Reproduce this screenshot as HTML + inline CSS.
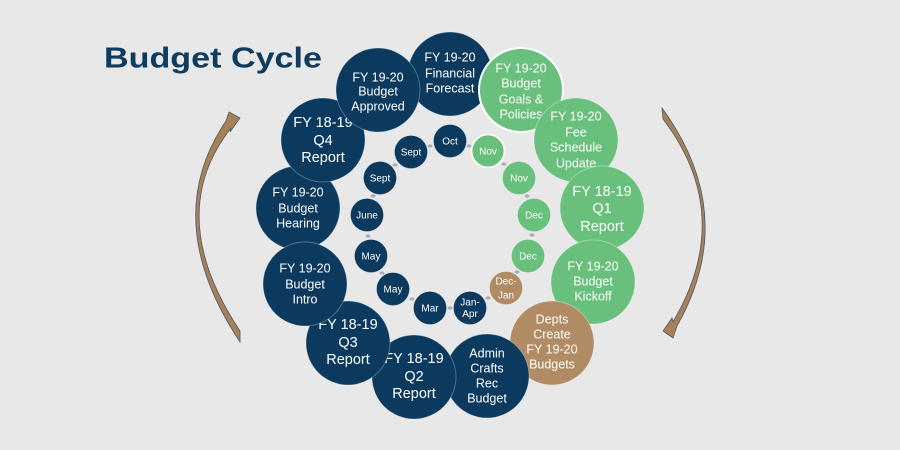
<!DOCTYPE html>
<html><head><meta charset="utf-8"><style>
html,body{margin:0;padding:0;background:#e8e8e8;}
svg{display:block;}
text{font-family:"Liberation Sans",sans-serif;fill:#fff;text-anchor:middle;}
.L{font-size:12.5px;}
.Q{font-size:14.5px;}
.s{font-size:10px;}
</style></head><body>
<svg width="900" height="450" viewBox="0 0 900 450" xmlns="http://www.w3.org/2000/svg">
<rect width="900" height="450" fill="#e8e8e8"/>
<text x="104" y="67.5" textLength="218" lengthAdjust="spacingAndGlyphs" style="font-size:29px;font-weight:bold;fill:#0d3c61;text-anchor:start;">Budget Cycle</text>

<!-- arrows -->
<path d="M226 121 L229 112 L240 118 L230 132 L231 128 Q163 215 240 331 L240 342 Q159 220 226 121 Z" fill="#a97f55" stroke="#4a5a6c" stroke-width="0.8"/>
<path d="M662 108 Q740 215 677 326 L673 338 L663 331 L672 318 L673 322 Q736 215 663 119 Z" fill="#a97f55" stroke="#4a5a6c" stroke-width="0.8"/>

<!-- connectors -->
<g fill="#a9acb4">
<ellipse cx="430" cy="146" rx="2.5" ry="1.6"/>
<ellipse cx="469" cy="146" rx="2.5" ry="1.6"/>
<ellipse cx="504" cy="164" rx="2.5" ry="1.6"/>
<ellipse cx="527" cy="196" rx="2.5" ry="1.6"/>
<ellipse cx="532" cy="235" rx="2.5" ry="1.6"/>
<ellipse cx="517" cy="272" rx="2.5" ry="1.6"/>
<ellipse cx="488" cy="298" rx="2.5" ry="1.6"/>
<ellipse cx="450" cy="308" rx="2.5" ry="1.6"/>
<ellipse cx="412" cy="299" rx="2.5" ry="1.6"/>
<ellipse cx="382" cy="273" rx="2.5" ry="1.6"/>
<ellipse cx="368" cy="236" rx="2.5" ry="1.6"/>
<ellipse cx="373" cy="196" rx="2.5" ry="1.6"/>
<ellipse cx="395" cy="165" rx="2.5" ry="1.6"/>
</g>

<!-- small circles -->
<g stroke="rgba(255,255,255,0.25)" stroke-width="0.8">
<circle cx="450" cy="141" r="16.5" fill="#0b3a5e"/>
<circle cx="411" cy="152" r="16.5" fill="#0b3a5e"/>
<circle cx="380" cy="178" r="16.5" fill="#0b3a5e"/>
<circle cx="367" cy="215" r="16.5" fill="#0b3a5e"/>
<circle cx="371" cy="256" r="16.5" fill="#0b3a5e"/>
<circle cx="393" cy="289" r="16.5" fill="#0b3a5e"/>
<circle cx="430" cy="308" r="16.5" fill="#0b3a5e"/>
<circle cx="470" cy="308" r="16.5" fill="#0b3a5e"/>
<circle cx="506" cy="288" r="16.5" fill="#b08b63"/>
<circle cx="528" cy="256" r="16.5" fill="#68c07c"/>
<circle cx="534" cy="215" r="16.5" fill="#68c07c"/>
<circle cx="519" cy="178" r="16.5" fill="#68c07c"/>
</g>
<circle cx="488" cy="151" r="16.5" fill="#68c07c" stroke="#fff" stroke-width="1.8"/>
<text class="s" x="450" y="144.5">Oct</text>
<text class="s" x="411" y="155.5">Sept</text>
<text class="s" x="380" y="181.5">Sept</text>
<text class="s" x="367" y="218.5">June</text>
<text class="s" x="371" y="259.5">May</text>
<text class="s" x="393" y="292.5">May</text>
<text class="s" x="430" y="311.5">Mar</text>
<text class="s" x="470" y="305.5">Jan-</text>
<text class="s" x="470" y="317">Apr</text>
<text class="s" x="506" y="284.5">Dec-</text>
<text class="s" x="506" y="298.5">Jan</text>
<text class="s" x="528" y="259.5">Dec</text>
<text class="s" x="534" y="218.5">Dec</text>
<text class="s" x="519" y="181.5">Nov</text>
<text class="s" x="488" y="154.5">Nov</text>

<!-- large circles in z-order -->
<g stroke-width="0.9">
<g><circle cx="450" cy="74" r="42" fill="#0b3a5e" stroke="rgba(255,255,255,0.3)"/>
<text class="L" x="450" y="61.5" stroke="none">FY 19-20</text><text class="L" x="450" y="77.5" stroke="none">Financial</text><text class="L" x="450" y="92.5" stroke="none">Forecast</text></g>

<g><circle cx="521" cy="90" r="42" fill="#68c07c" stroke="#fff" stroke-width="2"/>
<text class="L" x="521" y="72.5" stroke="none">FY 19-20</text><text class="L" x="521" y="87.5" stroke="none">Budget</text><text class="L" x="521" y="103.5" stroke="none">Goals &amp;</text><text class="L" x="521" y="118.5" stroke="none">Policies</text></g>

<g><circle cx="576" cy="140" r="42" fill="#68c07c" stroke="rgba(255,255,255,0.35)"/>
<text class="L" x="576" y="120.5" stroke="none">FY 19-20</text><text class="L" x="576" y="136.5" stroke="none">Fee</text><text class="L" x="576" y="151.5" stroke="none">Schedule</text><text class="L" x="576" y="167.5" stroke="none">Update</text></g>

<g><circle cx="602" cy="208" r="42" fill="#68c07c" stroke="rgba(255,255,255,0.35)"/>
<text class="Q" x="602" y="196" stroke="none">FY 18-19</text><text class="Q" x="602" y="213" stroke="none">Q1</text><text class="Q" x="602" y="231" stroke="none">Report</text></g>

<g><circle cx="593" cy="282" r="42" fill="#68c07c" stroke="rgba(255,255,255,0.35)"/>
<text class="L" x="593" y="270.5" stroke="none">FY 19-20</text><text class="L" x="593" y="285.5" stroke="none">Budget</text><text class="L" x="593" y="300.5" stroke="none">Kickoff</text></g>

<g><circle cx="552" cy="343" r="42" fill="#b08b63" stroke="rgba(255,255,255,0.35)"/>
<text class="L" x="552" y="323.5" stroke="none">Depts</text><text class="L" x="552" y="338.5" stroke="none">Create</text><text class="L" x="552" y="353.5" stroke="none">FY 19-20</text><text class="L" x="552" y="368.5" stroke="none">Budgets</text></g>

<g><circle cx="487" cy="376" r="42" fill="#0b3a5e" stroke="rgba(255,255,255,0.3)"/>
<text class="L" x="487" y="357.5" stroke="none">Admin</text><text class="L" x="487" y="372.5" stroke="none">Crafts</text><text class="L" x="487" y="387.5" stroke="none">Rec</text><text class="L" x="487" y="402.5" stroke="none">Budget</text></g>

<g><circle cx="414" cy="377" r="42" fill="#0b3a5e" stroke="rgba(255,255,255,0.3)"/>
<text class="Q" x="414" y="363" stroke="none">FY 18-19</text><text class="Q" x="414" y="381" stroke="none">Q2</text><text class="Q" x="414" y="398" stroke="none">Report</text></g>

<g><circle cx="348" cy="343" r="42" fill="#0b3a5e" stroke="rgba(255,255,255,0.3)"/>
<text class="Q" x="348" y="329" stroke="none">FY 18-19</text><text class="Q" x="348" y="347" stroke="none">Q3</text><text class="Q" x="348" y="364" stroke="none">Report</text></g>

<g><circle cx="298" cy="208" r="42" fill="#0b3a5e" stroke="rgba(255,255,255,0.3)"/>
<text class="L" x="298" y="196.5" stroke="none">FY 19-20</text><text class="L" x="298" y="212.5" stroke="none">Budget</text><text class="L" x="298" y="227.5" stroke="none">Hearing</text></g>

<g><circle cx="305" cy="284" r="42" fill="#0b3a5e" stroke="rgba(255,255,255,0.3)"/>
<text class="L" x="305" y="272.5" stroke="none">FY 19-20</text><text class="L" x="305" y="288.5" stroke="none">Budget</text><text class="L" x="305" y="303.5" stroke="none">Intro</text></g>

<g><circle cx="323" cy="140" r="42" fill="#0b3a5e" stroke="rgba(255,255,255,0.3)"/>
<text class="Q" x="323" y="127" stroke="none">FY 18-19</text><text class="Q" x="323" y="145" stroke="none">Q4</text><text class="Q" x="323" y="162" stroke="none">Report</text></g>

<g><circle cx="378" cy="90" r="42" fill="#0b3a5e" stroke="rgba(255,255,255,0.3)"/>
<text class="L" x="378" y="81.5" stroke="none">FY 19-20</text><text class="L" x="378" y="95.5" stroke="none">Budget</text><text class="L" x="378" y="110.5" stroke="none">Approved</text></g>
</g>
</svg>
</body></html>
